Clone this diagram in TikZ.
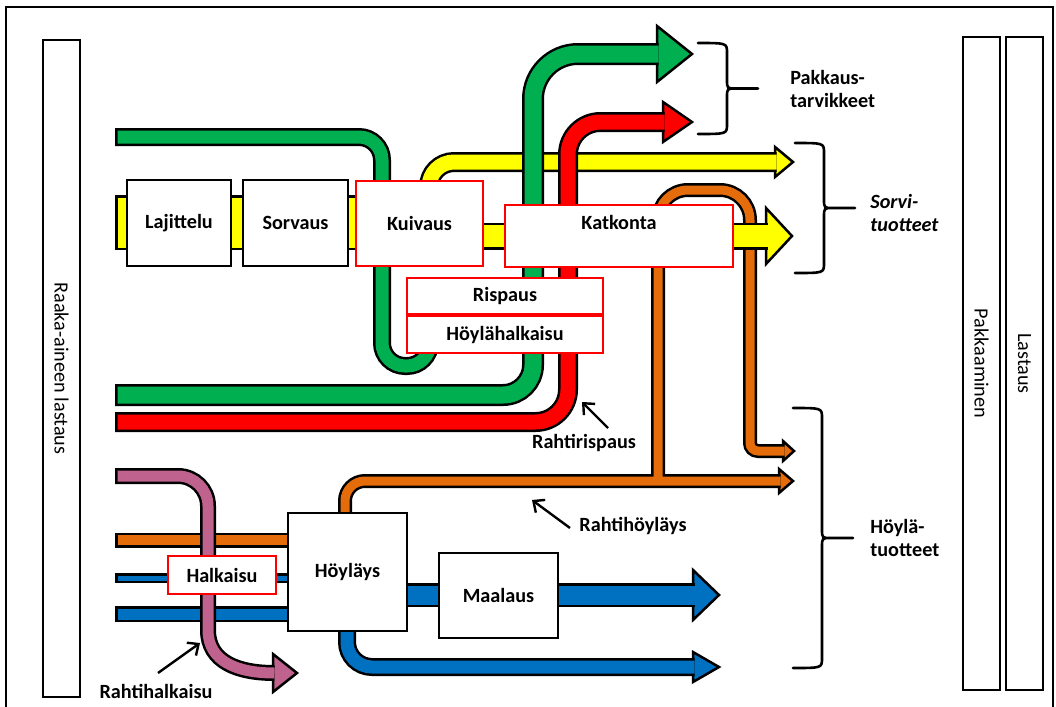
\documentclass[tikz,border=0pt]{standalone}
\usepackage{fontspec}
\setmainfont{Carlito}
\usetikzlibrary{positioning, arrows.meta}

\definecolor{flowGreen}{RGB}{0,176,80}
\definecolor{flowYellow}{RGB}{255,255,0}
\definecolor{flowRed}{RGB}{255,0,0}
\definecolor{flowOrange}{RGB}{228,108,10}
\definecolor{flowBlue}{RGB}{0,112,192}
\definecolor{flowMauve}{RGB}{192,98,142}

\newcommand{\pxu}{0.5691pt}
\newcommand{\boxfont}{\fontsize{11.5}{13.5}\selectfont\bfseries}
\newcommand{\sidefont}{\fontsize{11.5}{13.5}\selectfont}

\tikzset{
  % Process boxes
  procbox/.style={
    draw=black, fill=white, line width=2.5*\pxu,
    font=\boxfont, inner sep=0pt
  },
  cutbox/.style={
    draw=red, fill=white, line width=2*\pxu,
    font=\boxfont, inner sep=0pt
  },
  % Loading / packing columns
  sidebox/.style={
    draw=black, fill=white, line width=2*\pxu, rotate=-90,
    font=\sidefont, inner sep=0pt
  },
  % Output labels and braces
  outlabel/.style={font=\boxfont, align=left, anchor=west, inner sep=0pt},
  bracket/.style={line width=2.6*\pxu, line cap=round},
  % Pointer arrows
  note/.style={-{Straight Barb[length=5pt,width=9pt]}, line width=2.4*\pxu},
  notelabel/.style={font=\boxfont, inner sep=1pt},
}

% flow pipe: colour, width (px), path
\newcommand{\flowpipe}[3]{%
  \draw[line width=#2*\pxu] #3;
  \draw[#1, line width=(#2-5)*\pxu, shorten <=2.5*\pxu] #3;
}
% flow arrow head: colour, base x, tip x, y, half height
\newcommand{\flowhead}[5]{%
  \filldraw[fill=#1, draw=black, line width=2.5*\pxu, line join=miter]
    (#2,{#4-#5}) -- (#3,#4) -- (#2,{#4+#5}) -- cycle;
}
% right brace: x of ends, top y, bottom y
\newcommand{\outbrace}[3]{%
  \draw[bracket] (#1,#2) .. controls ({#1+29},#2) .. ({#1+29},{#2+10})
    -- ({#1+29},{(#2+#3)/2-9}) .. controls ({#1+29},{(#2+#3)/2}) .. ({#1+38},{(#2+#3)/2})
    -- ({#1+60},{(#2+#3)/2})
    ({#1+38},{(#2+#3)/2}) .. controls ({#1+29},{(#2+#3)/2}) .. ({#1+29},{(#2+#3)/2+9})
    -- ({#1+29},{#3-10}) .. controls ({#1+29},#3) .. (#1,#3);
}

\begin{document}
\begin{tikzpicture}[x=0.02cm, y=-0.02cm]
  \useasboundingbox (0,0) rectangle (1056,707);

  %% ── Frame ──
  \draw[line width=2*\pxu] (6,715) -- (6,7) -- (1053,7) -- (1053,715);

  %% ── Orange flows (freight planing) ──
  \flowhead{flowOrange}{779}{793}{481}{12}
  \flowhead{flowOrange}{783}{794}{451}{10}
  \flowpipe{flowOrange}{14}{[rounded corners=0.4cm] (345,540) -- (345,481) -- (780.5,481)
      (658,481) [rounded corners=0.6cm] -- (658,190) -- (750,190)
      [rounded corners=0.16cm] -- (750,451) -- (784.5,451)}

  %% ── Yellow flows ──
  \flowpipe{flowYellow}{55}{(115,222.5) -- (372,222.5)}
  \flowhead{flowYellow}{766}{792}{236}{28}
  \flowpipe{flowYellow}{27}{(470,236) -- (767.5,236)}
  \flowhead{flowYellow}{775}{793}{162}{15}
  \flowpipe{flowYellow}{20}{[rounded corners=0.5cm] (429,230) -- (429,162) -- (776.5,162)}

  %% ── Green and red flows ──
  \flowpipe{flowGreen}{18}{[rounded corners=0.46cm] (115,137) -- (382,137) -- (382,366) -- (430,366) -- (430,335)}
  \flowhead{flowGreen}{657}{692}{54}{28}
  \flowpipe{flowGreen}{22}{[rounded corners=0.6cm] (115,395) -- (533,395)
      [rounded corners=0.9cm] -- (533,54) -- (658.5,54)}
  \flowhead{flowRed}{663}{692}{122}{20}
  \flowpipe{flowRed}{20}{[rounded corners=0.65cm] (115,422) -- (568,422) -- (568,122) -- (664.5,122)}

  %% ── Lower flows ──
  \flowpipe{flowOrange}{15}{(115,540) -- (300,540)}
  \flowpipe{flowBlue}{10}{(115,578) -- (300,578)}
  \flowpipe{flowBlue}{16}{(115,614) -- (300,614)}
  \flowhead{flowBlue}{693}{719}{595}{25}
  \flowpipe{flowBlue}{24}{(400,595) -- (694.5,595)}
  \flowhead{flowBlue}{693}{719}{667}{15}
  \flowpipe{flowBlue}{18}{[rounded corners=0.5cm] (347,600) -- (347,667) -- (694.5,667)}
  \flowhead{flowMauve}{273}{297}{673}{19}
  \flowpipe{flowMauve}{16}{[rounded corners=0.6cm] (115,476) -- (208,476)
      [sharp corners] -- (208,630) .. controls (208,662) and (238,673) .. (274.5,673)}

  %% ── Side columns ──
  \node[sidebox, minimum width=657*\pxu, minimum height=37*\pxu] (raaka) at (61.5,368.5) {Raaka-aineen lastaus};
  \node[sidebox, minimum width=653*\pxu, minimum height=37*\pxu] (pakkaaminen) at (981.5,363.5) {Pakkaaminen};
  \node[sidebox, minimum width=653*\pxu, minimum height=37*\pxu] (lastaus) at (1024.5,363.5) {Lastaus};

  %% ── Process boxes ──
  \node[procbox, minimum width=104*\pxu, minimum height=86*\pxu] (lajittelu) at (179,223) {Lajittelu};
  \node[procbox, minimum width=105*\pxu, minimum height=86*\pxu] (sorvaus) at (295.5,223) {Sorvaus};
  \node[cutbox, minimum width=127*\pxu, minimum height=85*\pxu] (kuivaus) at (419.5,223.5) {Kuivaus};
  \node[cutbox, minimum width=228*\pxu, minimum height=62*\pxu, text depth=27*\pxu] (katkonta) at (619,236) {Katkonta};
  \node[cutbox, minimum width=196*\pxu, minimum height=36*\pxu] (rispaus) at (505,296) {Rispaus};
  \node[cutbox, minimum width=196*\pxu, minimum height=37*\pxu, below=0pt of rispaus] (hoylahalk) {Höylähalkaisu};
  \node[cutbox, minimum width=108*\pxu, minimum height=38*\pxu] (halkaisu) at (222,575) {Halkaisu};
  \node[procbox, minimum width=119*\pxu, minimum height=118*\pxu] (hoylays) at (347.5,572) {Höyläys};
  \node[procbox, minimum width=119*\pxu, minimum height=85*\pxu] (maalaus) at (498.5,595.5) {Maalaus};

  %% ── Outputs ──
  \outbrace{698}{43}{134}
  \outbrace{795}{143}{273}
  \outbrace{793}{408}{668}
  \node[outlabel] (pakkLbl) at (790,89) {Pakkaus-\\tarvikkeet};
  \node[outlabel] (sorviLbl) at (870,213) {\itshape Sorvi-\\\itshape tuotteet};
  \node[outlabel] (hoylaLbl) at (870,538) {Höylä-\\tuotteet};

  %% ── Freight processing notes ──
  \node[notelabel] (rrLbl) at (584,443) {Rahtirispaus};
  \node[notelabel] (rhLbl) at (633,526) {Rahtihöyläys};
  \node[notelabel] (rkLbl) at (156,691) {Rahtihalkaisu};
  \coordinate (rrFrom) at (608,428);
  \coordinate (rrTo) at (582,402);
  \coordinate (rhFrom) at (570,528);
  \coordinate (rhTo) at (532,500);
  \coordinate (rkFrom) at (158,673);
  \coordinate (rkTo) at (200,643);
  \draw[note] (rrFrom) -- (rrTo);
  \draw[note] (rhFrom) -- (rhTo);
  \draw[note] (rkFrom) -- (rkTo);

\end{tikzpicture}
\end{document}
